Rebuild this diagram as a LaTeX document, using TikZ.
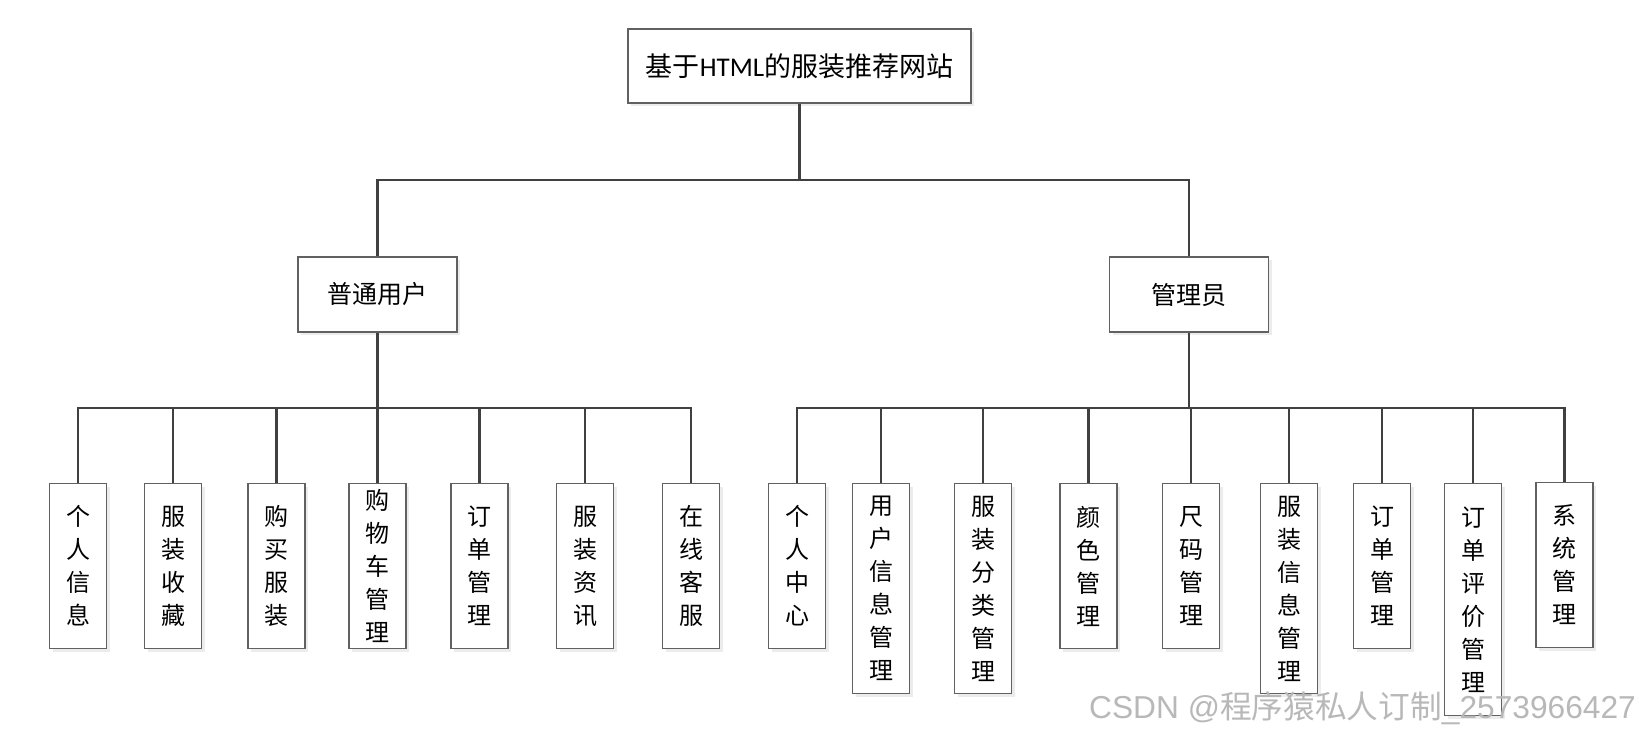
\documentclass[tikz,border=0pt]{standalone}
\usepackage{fontspec}
\setmainfont{Noto Sans CJK SC}
\newfontfamily\carlito{Carlito}
\newfontfamily\libsans{Liberation Sans}
\usetikzlibrary{shadows}
\begin{document}
\begin{tikzpicture}[x=1pt,y=-1pt,
  box/.style={draw=black!62,line width=1.1pt,fill=white,inner sep=0pt,align=center,
    drop shadow={shadow xshift=3pt,shadow yshift=-3pt,fill=black!12,opacity=0.6}},
  leaf/.style={box,minimum width=57pt,anchor=north,font=\fontsize{24}{33}\selectfont},
  short/.style={leaf,minimum height=165pt},
  mid/.style={leaf,minimum height=210pt},
  tall/.style={leaf,minimum height=232pt},
  conn/.style={draw=black!75,line width=2.4pt}]
\useasboundingbox (0,0) rectangle (1639,739);
% top level
\node[box,minimum width=343pt,minimum height=74pt,font=\fontsize{27}{30}\selectfont] (top) at (799.5,66) {基于{\carlito HTML}的服装推荐网站};
\node[box,minimum width=159pt,minimum height=75pt,font=\fontsize{25}{30}\selectfont] (u) at (377.5,294.5) {普通用户};
\node[box,minimum width=159pt,minimum height=75pt,font=\fontsize{25}{30}\selectfont] (a) at (1189,294.5) {管理员};
% leaves of user
\node[short] (l1) at (78,483) {个\\人\\信\\息};
\node[short] (l2) at (173,483) {服\\装\\收\\藏};
\node[short] (l3) at (276.5,483) {购\\买\\服\\装};
\node[short] (l4) at (377.5,483) {购\\物\\车\\管\\理};
\node[short] (l5) at (479.5,483) {订\\单\\管\\理};
\node[short] (l6) at (585,483) {服\\装\\资\\讯};
\node[short] (l7) at (691,483) {在\\线\\客\\服};
% leaves of admin
\node[short] (r1) at (797,483) {个\\人\\中\\心};
\node[mid] (r2) at (881,483) {用\\户\\信\\息\\管\\理};
\node[mid] (r3) at (983,483) {服\\装\\分\\类\\管\\理};
\node[short] (r4) at (1088.5,483) {颜\\色\\管\\理};
\node[short] (r5) at (1191,483) {尺\\码\\管\\理};
\node[mid] (r6) at (1289,483) {服\\装\\信\\息\\管\\理};
\node[short] (r7) at (1382,483) {订\\单\\管\\理};
\node[tall] (r8) at (1473,483) {订\\单\\评\\价\\管\\理};
\node[short] (r9) at (1564.5,482) {系\\统\\管\\理};
% junctions
\coordinate (j1) at (799.5,180);
\coordinate (j2) at (377.5,408);
\coordinate (j3) at (1189,408);
% connectors
\draw[conn] (top.south) -- (j1);
\draw[conn] (u.north) |- (j1) -| (a.north);
\draw[conn] (u.south) -- (j2);
\draw[conn] (a.south) -- (j3);
\foreach \n in {l1,l2,l3,l4,l5,l6,l7}{\draw[conn] (\n.north) |- (j2);}
\foreach \n in {r1,r2,r3,r4,r5,r6,r7,r8,r9}{\draw[conn] (\n.north) |- (j3);}
% watermark
\node[anchor=base west,inner sep=0pt,text=black!28,font=\fontsize{31.7}{32}\selectfont] (wm) at (1089,718) {{\libsans CSDN @}程序猿私人订制{\libsans \_2573966427}};
\end{tikzpicture}
\end{document}
